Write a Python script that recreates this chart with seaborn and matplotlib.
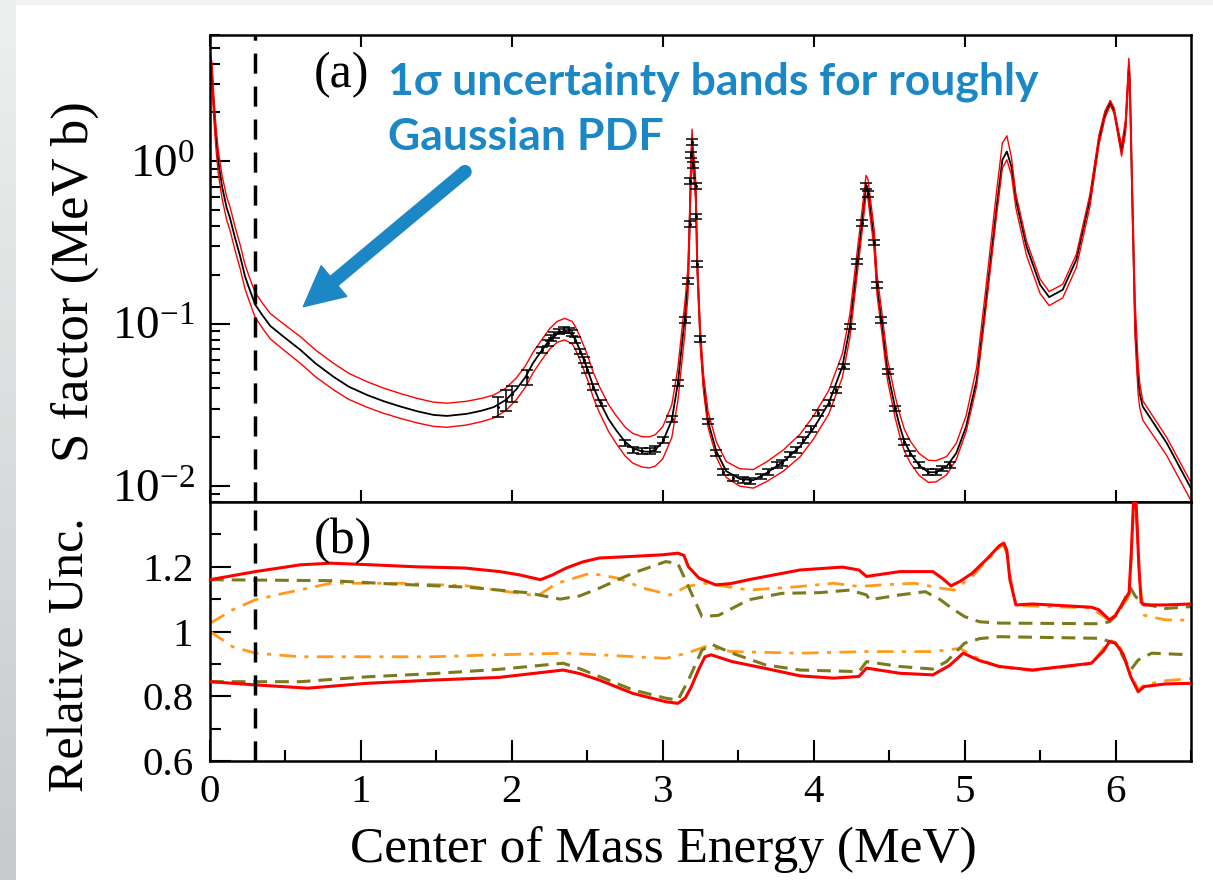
import numpy as np
import pandas as pd
import matplotlib
matplotlib.use("Agg")
import matplotlib.pyplot as plt
import seaborn as sns
from matplotlib.ticker import (LogLocator, NullFormatter, NullLocator,
                               MultipleLocator, FixedLocator, FixedFormatter)
from matplotlib.patches import FancyArrow, Circle, Rectangle
from matplotlib.transforms import IdentityTransform

# ---------------- S factor: central fit curve ----------------
energy = [0.0, 0.013, 0.025, 0.04, 0.055, 0.08, 0.11, 0.132, 0.165, 0.2,
          0.232, 0.26, 0.3, 0.35, 0.4, 0.486, 0.6, 0.7, 0.817, 0.92, 1.04,
          1.15, 1.26, 1.37, 1.48, 1.57, 1.7, 1.8, 1.88, 1.96, 2.03, 2.09,
          2.14, 2.2, 2.25, 2.30, 2.35, 2.40, 2.42, 2.45, 2.5, 2.54, 2.58,
          2.64, 2.69, 2.75, 2.8, 2.86, 2.91, 2.95, 3.0, 3.06, 3.10, 3.135,
          3.145, 3.167, 3.179, 3.186, 3.194, 3.20, 3.21, 3.22, 3.227, 3.249,
          3.27, 3.30, 3.355, 3.42, 3.51, 3.6, 3.69, 3.8, 3.91, 4.0, 4.1,
          4.19, 4.24, 4.29, 4.32, 4.347, 4.36, 4.40, 4.42, 4.45, 4.49, 4.54,
          4.57, 4.6, 4.64, 4.70, 4.76, 4.81, 4.88, 4.945, 5.01, 5.08, 5.14,
          5.21, 5.25, 5.28, 5.31, 5.34, 5.41, 5.5, 5.56, 5.65, 5.74, 5.83,
          5.89, 5.93, 5.965, 5.99, 6.02, 6.04, 6.066, 6.08, 6.088, 6.095,
          6.11, 6.13, 6.15, 6.16, 6.18, 6.34, 6.5]
s_factor = [4.0, 3.5, 2.2, 1.4, 1.0, 0.7, 0.52, 0.45, 0.34, 0.26, 0.196,
            0.165, 0.131, 0.112, 0.097, 0.0835, 0.069, 0.057, 0.0473, 0.041,
            0.0365, 0.0334, 0.031, 0.029, 0.0275, 0.0271, 0.0279, 0.0292,
            0.0307, 0.034, 0.0395, 0.047, 0.0573, 0.069, 0.0797, 0.0875,
            0.0905, 0.086, 0.08, 0.0695, 0.053, 0.041, 0.0335, 0.026, 0.0222,
            0.0188, 0.0172, 0.0164, 0.0163, 0.0168, 0.0188, 0.0256, 0.0431,
            0.0877, 0.106, 0.184, 0.45, 0.85, 1.33, 1.05, 0.85, 0.6, 0.25,
            0.08, 0.042, 0.025, 0.0164, 0.0124, 0.0111, 0.0109, 0.0121,
            0.0142, 0.0176, 0.0228, 0.0325, 0.0546, 0.096, 0.242, 0.42, 0.70,
            0.66, 0.33, 0.17, 0.103, 0.0508, 0.0302, 0.0235, 0.019, 0.016,
            0.0134, 0.0122, 0.0122, 0.0132, 0.016, 0.0233, 0.0452, 0.134,
            0.504, 1.02, 1.15, 0.93, 0.581, 0.299, 0.174, 0.146, 0.162, 0.248,
            0.581, 1.36, 1.95, 2.29, 2.05, 1.45, 1.15, 1.64, 2.8, 3.85, 3.0,
            0.64, 0.096, 0.045, 0.0374, 0.031, 0.0184, 0.0097]

# ---------------- measured S factor with errors ----------------
data_e = [1.91, 1.96, 2.004, 2.103, 2.2, 2.24, 2.26, 2.28, 2.313, 2.344, 2.377,
          2.399, 2.42, 2.454, 2.476, 2.5, 2.54, 2.59, 2.75, 2.8, 2.86, 2.914,
          2.948, 3.0, 3.06, 3.1, 3.145, 3.167, 3.179, 3.18, 3.19, 3.194, 3.2,
          3.223, 3.223, 3.227, 3.249, 3.30, 3.355, 3.4, 3.464, 3.53, 3.58,
          3.65, 3.7, 3.76, 3.79, 3.84, 3.88, 3.93, 3.98, 4.03, 4.10, 4.15,
          4.20, 4.24, 4.29, 4.318, 4.347, 4.358, 4.402, 4.418, 4.446, 4.49,
          4.536, 4.60, 4.64, 4.70, 4.76, 4.81, 4.85, 4.90]
data_s = [0.0309, 0.0340, 0.0371, 0.0470, 0.0691, 0.0760, 0.0816, 0.0855,
          0.0897, 0.0918, 0.0910, 0.0877, 0.0797, 0.0675, 0.0600, 0.0521,
          0.0408, 0.0327, 0.0184, 0.0167, 0.0165, 0.0165, 0.0169, 0.0193,
          0.0259, 0.0431, 0.106, 0.184, 0.411, 0.760, 1.10, 1.317, 0.954,
          0.708, 0.458, 0.234, 0.0805, 0.0251, 0.0160, 0.0123, 0.0112,
          0.0109, 0.0108, 0.0115, 0.0123, 0.0135, 0.0139, 0.0157, 0.0167,
          0.0193, 0.0225, 0.0282, 0.0327, 0.0392, 0.0546, 0.0962, 0.242,
          0.417, 0.708, 0.630, 0.317, 0.174, 0.106, 0.0508, 0.0302, 0.0188,
          0.0159, 0.0135, 0.0122, 0.0122, 0.0129, 0.0135]
data_relerr = [0.14, 0.15, 0.11, 0.11] + [0.04] * 68

# ---------------- relative uncertainties ----------------
tot_hi_e = [0.0, 0.3, 0.6, 0.8, 1.07, 1.36, 1.69, 1.92, 2.05, 2.19, 2.27,
            2.36, 2.47, 2.58, 2.8, 3.0, 3.1, 3.14, 3.17, 3.24, 3.35, 3.45,
            3.57, 3.75, 3.91, 4.19, 4.30, 4.35, 4.57, 4.79, 4.85, 4.91, 4.97,
            5.05, 5.15, 5.23, 5.26, 5.28, 5.30, 5.34, 5.45, 5.84, 5.89, 5.96,
            6.0, 6.05, 6.09, 6.105, 6.12, 6.135, 6.155, 6.17, 6.19, 6.33, 6.5]
tot_hi = [1.16, 1.185, 1.206, 1.211, 1.206, 1.20, 1.196, 1.185, 1.175, 1.16,
          1.175, 1.196, 1.215, 1.227, 1.232, 1.237, 1.242, 1.235, 1.20, 1.165,
          1.144, 1.148, 1.16, 1.176, 1.19, 1.199, 1.19, 1.17, 1.185, 1.185,
          1.165, 1.141, 1.155, 1.18, 1.225, 1.265, 1.273, 1.25, 1.16, 1.082,
          1.085, 1.075, 1.067, 1.036, 1.05, 1.09, 1.12, 1.25, 1.41, 1.41,
          1.2, 1.09, 1.082, 1.082, 1.085]
tot_lo_e = [0.0, 0.3, 0.65, 1.04, 1.48, 1.91, 2.34, 2.45, 2.58, 2.8, 3.02, 3.1,
            3.15, 3.19, 3.24, 3.28, 3.32, 3.46, 3.68, 3.91, 4.13, 4.30, 4.35,
            4.57, 4.79, 4.9, 4.99, 5.1, 5.23, 5.45, 5.84, 5.92, 5.96, 6.0,
            6.05, 6.1, 6.15, 6.19, 6.33, 6.5]
tot_lo = [0.845, 0.835, 0.825, 0.840, 0.85, 0.858, 0.881, 0.87, 0.85, 0.809,
          0.783, 0.778, 0.795, 0.83, 0.885, 0.922, 0.928, 0.907, 0.886, 0.863,
          0.856, 0.861, 0.887, 0.871, 0.866, 0.895, 0.933, 0.91, 0.892, 0.881,
          0.902, 0.94, 0.969, 0.964, 0.93, 0.861, 0.814, 0.830, 0.838, 0.840]

dat_hi_e = [0.0, 0.8, 1.2, 1.7, 2.1, 2.32, 2.45, 2.58, 2.8, 3.02, 3.1, 3.17,
            3.26, 3.37, 3.57, 3.79, 4.04, 4.24, 4.35, 4.37, 4.57, 4.74, 4.84,
            4.92, 5.0, 5.1, 5.23, 5.89, 5.96, 6.02, 6.07, 6.10, 6.13, 6.17,
            6.33, 6.5]
dat_hi = [1.16, 1.157, 1.147, 1.137, 1.12, 1.10, 1.11, 1.134, 1.18, 1.216,
          1.21, 1.139, 1.046, 1.05, 1.098, 1.118, 1.12, 1.128, 1.113, 1.098,
          1.113, 1.123, 1.098, 1.07, 1.046, 1.03, 1.026, 1.024, 1.03, 1.056,
          1.11, 1.134, 1.11, 1.087, 1.071, 1.077]
dat_lo_e = [0.0, 0.6, 1.04, 1.48, 1.91, 2.34, 2.45, 2.58, 2.8, 3.02, 3.1, 3.17,
            3.26, 3.33, 3.46, 3.68, 3.91, 4.3, 4.35, 4.57, 4.79, 4.88, 5.0,
            5.1, 5.23, 5.89, 6.0, 6.1, 6.15, 6.24, 6.5]
dat_lo = [0.845, 0.845, 0.86, 0.87, 0.883, 0.902, 0.885, 0.861, 0.82, 0.794,
          0.788, 0.85, 0.943, 0.959, 0.933, 0.897, 0.881, 0.876, 0.907, 0.892,
          0.884, 0.907, 0.964, 0.978, 0.984, 0.979, 0.964, 0.881, 0.912,
          0.933, 0.928]

mod_hi_e = [0.0, 0.15, 0.3, 0.49, 0.8, 1.26, 1.7, 2.17, 2.3, 2.52, 2.7, 2.87,
            3.05, 3.16, 3.28, 3.57, 3.91, 4.13, 4.3, 4.45, 4.67, 4.84, 4.93,
            5.05, 5.15, 5.23, 5.26, 5.28, 5.31, 5.34, 5.84, 5.96, 6.05, 6.09,
            6.105, 6.12, 6.135, 6.16, 6.19, 6.33, 6.5]
mod_hi = [1.025, 1.067, 1.098, 1.118, 1.149, 1.149, 1.141, 1.11, 1.149, 1.18,
          1.165, 1.134, 1.113, 1.139, 1.149, 1.128, 1.139, 1.149, 1.139,
          1.144, 1.149, 1.134, 1.128, 1.17, 1.22, 1.26, 1.265, 1.24, 1.15,
          1.08, 1.073, 1.034, 1.08, 1.11, 1.24, 1.39, 1.39, 1.15, 1.05,
          1.036, 1.035]
mod_lo_e = [0.0, 0.15, 0.3, 0.6, 1.48, 1.9, 2.36, 2.58, 3.02, 3.16, 3.28, 3.46,
            3.91, 4.35, 4.79, 4.97, 5.05, 5.23, 5.45, 5.84, 5.96, 6.02, 6.10,
            6.15, 6.19, 6.33, 6.5]
mod_lo = [1.0, 0.953, 0.933, 0.922, 0.922, 0.928, 0.933, 0.928, 0.917, 0.933,
          0.953, 0.938, 0.933, 0.938, 0.938, 0.948, 0.925, 0.89, 0.879, 0.90,
          0.972, 0.965, 0.87, 0.82, 0.835, 0.848, 0.855]

E_CUT = 0.3

# ---------------- style ----------------
W, H, DPI = 1213, 880, 100
sns.set_theme(style="ticks", rc={
    "axes.edgecolor": "black", "xtick.color": "black", "ytick.color": "black",
    "text.color": "black", "axes.labelcolor": "black", "axes.linewidth": 1.8,
})
plt.rcParams["font.family"] = ["Liberation Serif", "DejaVu Serif"]
plt.rcParams["mathtext.fontset"] = "stix"

RED = "#ff0000"
OLIVE = "#7b7b1e"
ORANGE = "#ff9a1a"
BLUE = "#1b87c4"

fig = plt.figure(figsize=(W / DPI, H / DPI), dpi=DPI, facecolor="white")


def fx(px):
    return px / W


def fy(py):
    return 1 - py / H


# slide margin on the left and top
strip = fig.add_axes([0, 0, 16 / W, 1], zorder=-5)
grad = np.linspace(0, 1, 256).reshape(-1, 1)
strip.imshow(grad, aspect="auto", cmap=matplotlib.colors.LinearSegmentedColormap.from_list(
    "g", ["#eef0f0", "#c6caca"]), extent=[0, 1, 1, 0])
strip.axis("off")
fig.add_artist(Rectangle((0, H - 4), W, 4, transform=IdentityTransform(),
                         color="#f1f3f3", zorder=-6))

ax1 = fig.add_axes([fx(210), fy(502), fx(1191) - fx(210), fy(35) - fy(502)])
ax2 = fig.add_axes([fx(210), fy(761), fx(1191) - fx(210), fy(502) - fy(761)])

# ---------------- panel (a) ----------------
e = np.array(energy)
s = np.array(s_factor)
s_hi = s * np.interp(e, tot_hi_e, tot_hi)
s_lo = s * np.interp(e, tot_lo_e, tot_lo)

sns.lineplot(x=energy, y=s_factor, ax=ax1, color="black", lw=1.3,
             sort=False, estimator=None)
sns.lineplot(x=energy, y=s_hi, ax=ax1, color=RED, lw=1.0, sort=False, estimator=None)
sns.lineplot(x=energy, y=s_lo, ax=ax1, color=RED, lw=1.0, sort=False, estimator=None)

ds = np.array(data_s)
ax1.errorbar(data_e, data_s, yerr=ds * np.array(data_relerr), fmt="none",
             ecolor="black", elinewidth=1.1, capsize=4.5, capthick=1.1, zorder=4)
sns.scatterplot(x=data_e, y=data_s, ax=ax1, color="black", s=5, linewidth=0, zorder=5)

ax1.axvline(E_CUT, color="black", lw=2.5, dashes=(5.8, 3.7), zorder=6)
ax1.set_yscale("log")
ax1.set_xlim(0, 6.5)
ax1.set_ylim(0.008, 6)
ax1.yaxis.set_major_locator(LogLocator(base=10, numticks=10))
ax1.yaxis.set_minor_locator(LogLocator(base=10, subs=np.arange(2, 10), numticks=20))
ax1.yaxis.set_minor_formatter(NullFormatter())
ax1.xaxis.set_major_locator(MultipleLocator(1))
ax1.xaxis.set_minor_locator(NullLocator())
ax1.tick_params(axis="x", which="both", direction="in", top=True, bottom=True,
                labelbottom=False, length=8.6, width=1.5)
ax1.tick_params(axis="y", which="major", direction="in", length=14.4, width=1.5,
                labelsize=34, pad=11, right=False)
ax1.tick_params(axis="y", which="minor", direction="in", length=7.2, width=1.5, right=False)
ax1.set_ylabel("S factor (MeV b)", fontsize=38)
ax1.yaxis.set_label_coords((75 - 210) / 981, (502 - 282) / 467)
ax1.yaxis.label.set_va("center")

# ---------------- panel (b) ----------------
for xe, yv in [(tot_hi_e, tot_hi), (tot_lo_e, tot_lo)]:
    sns.lineplot(x=xe, y=yv, ax=ax2, color=RED, lw=2.2, sort=False, estimator=None, zorder=3)
for xe, yv in [(mod_hi_e, mod_hi), (mod_lo_e, mod_lo)]:
    sns.lineplot(x=xe, y=yv, ax=ax2, color=ORANGE, lw=2.0, sort=False, estimator=None, zorder=2)
    ax2.get_lines()[-1].set_dashes((6, 3, 1.5, 3))
for xe, yv in [(dat_hi_e, dat_hi), (dat_lo_e, dat_lo)]:
    sns.lineplot(x=xe, y=yv, ax=ax2, color=OLIVE, lw=2.2, sort=False, estimator=None, zorder=2)
    ax2.get_lines()[-1].set_dashes((4.5, 2.6))

ax2.axvline(E_CUT, color="black", lw=2.5, dashes=(5.8, 3.7), zorder=6)
ax2.set_xlim(0, 6.5)
ax2.set_ylim(0.6, 1.4)
ax2.xaxis.set_major_locator(MultipleLocator(1))
ax2.xaxis.set_minor_locator(MultipleLocator(0.5))
ax2.yaxis.set_major_locator(FixedLocator([0.6, 0.8, 1.0, 1.2]))
ax2.yaxis.set_major_formatter(FixedFormatter(["0.6", "0.8", "1", "1.2"]))
ax2.yaxis.set_minor_locator(FixedLocator([0.7, 0.9, 1.1, 1.3]))
ax2.tick_params(axis="both", which="major", direction="in", length=15, width=1.5,
                labelsize=29.5, top=False, right=False)
ax2.tick_params(axis="both", which="minor", direction="in", length=8, width=1.5,
                top=False, right=False)
ax2.tick_params(axis="y", which="major", pad=12)
ax2.tick_params(axis="x", which="major", pad=9)
ax2.set_ylabel("Relative Unc.", fontsize=36)
ax2.yaxis.set_label_coords((71 - 210) / 981, (761 - 655) / 259)
ax2.yaxis.label.set_va("center")
ax2.set_xlabel("Center of Mass Energy (MeV)", fontsize=37)
ax2.xaxis.set_label_coords((663 - 210) / 981, (761 - 850) / 259)
ax2.xaxis.label.set_va("center")

for ax in (ax1, ax2):
    for sp in ax.spines.values():
        sp.set_linewidth(1.8)
        sp.set_color("black")
    ax.set_facecolor("white")

# panel tags
fig.text(fx(314), fy(75), "(a)", fontsize=36, ha="left", va="center")
fig.text(fx(314), fy(541), "(b)", fontsize=36, ha="left", va="center")

# callout
note_font = ["Lato", "Open Sans", "DejaVu Sans"]
fig.text(fx(388), fy(94), "1σ uncertainty bands for roughly", fontsize=32,
         fontweight="bold", color=BLUE, family=note_font, ha="left", va="baseline")
fig.text(fx(388), fy(150), "Gaussian PDF", fontsize=32,
         fontweight="bold", color=BLUE, family=note_font, ha="left", va="baseline")

tail = (465, H - 171.7)
tip = (303.3, H - 306.7)
fig.add_artist(FancyArrow(tail[0], tail[1], tip[0] - tail[0], tip[1] - tail[1],
                          width=12, head_width=40, head_length=40,
                          length_includes_head=True, color=BLUE,
                          transform=IdentityTransform(), zorder=10))
fig.add_artist(Circle(tail, 6, color=BLUE, transform=IdentityTransform(), zorder=10))

fig.savefig("out.png", dpi=DPI, facecolor="white")
